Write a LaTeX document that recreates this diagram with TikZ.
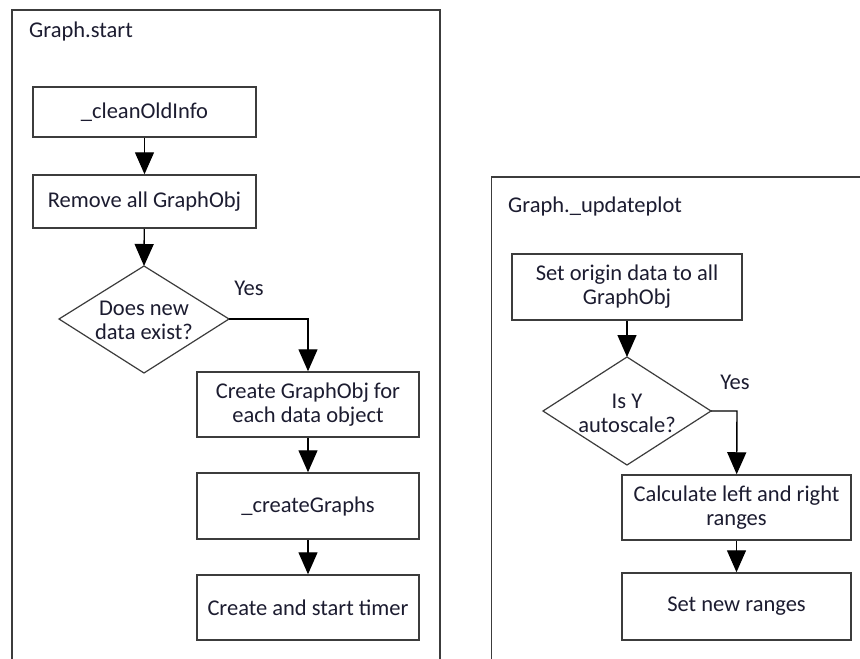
\documentclass[tikz,border=0pt]{standalone}
\usepackage{fontspec}
\setmainfont{Carlito}
\usetikzlibrary{arrows.meta}
\definecolor{edge}{HTML}{3C3C3C}
\definecolor{ink}{HTML}{1C1C30}
\begin{document}
\begin{tikzpicture}[x=1pt,y=-1pt,
  frame/.style={draw=edge,line width=1.8pt},
  txt/.style={text=ink,font=\fontsize{22.5}{24}\selectfont},
  stepbox/.style={txt,draw=edge,line width=1.5pt,rectangle,minimum width=#1,inner sep=0pt,align=center},
  decision/.style={draw=edge,line width=1.2pt},
  lbl/.style={txt,inner sep=0pt},
  flow/.style={draw=black,line width=1.4pt,-{Triangle[length=22pt,width=19pt]}}]
\useasboundingbox (0,0) rectangle (860,659);
\fill[white] (0,0) rectangle (860,659);

% left panel: Graph.start
\draw[frame] (12,659) -- (12,10) -- (440,10) -- (440,659);
\node[lbl,anchor=west] (t1) at (29,31) {Graph.start};
\node[stepbox=223pt,minimum height=50pt] (clean) at (144.5,112) {\_cleanOldInfo};
\node[stepbox=223pt,minimum height=53pt] (remove) at (144.5,201.5) {Remove all GraphObj};
\path[decision] (144,266) coordinate (dtop) -- (229,319) coordinate (dright) -- (144,373) coordinate (dbot) -- (59,319) coordinate (dleft) -- cycle;
\node[lbl,align=center] (q1) at (144,320) {Does new\\data exist?};
\node[lbl] (yes1) at (249,288) {Yes};
\node[stepbox=222pt,minimum height=65pt] (mkobj) at (308,404.5) {Create GraphObj for\\each data object};
\node[stepbox=222pt,minimum height=66pt] (mkgraph) at (308,506) {\_createGraphs};
\node[stepbox=222pt,minimum height=65pt] (timer) at (308,607.5) {Create and start timer};
\coordinate (corner1) at (308,319);
\draw[flow] (clean) -- (remove);
\draw[flow] (remove) -- (dtop);
\draw[flow] (dright) -- (corner1) -- (mkobj);
\draw[flow] (mkobj) -- (mkgraph);
\draw[flow] (mkgraph) -- (timer);

% right panel: Graph._updateplot
\draw[frame] (491.5,659) -- (491.5,177) -- (860,177);
\node[lbl,anchor=west] (t2) at (508,206) {Graph.\_updateplot};
\node[stepbox=230pt,minimum height=66pt] (origin) at (627,287) {Set origin data to all\\GraphObj};
\path[decision] (627,357) coordinate (etop) -- (711,411) coordinate (eright) -- (627,465) coordinate (ebot) -- (543,411) coordinate (eleft) -- cycle;
\node[lbl,align=center] (q2) at (627,413) {Is Y\\autoscale?};
\node[lbl] (yes2) at (735,382) {Yes};
\node[stepbox=229pt,minimum height=65pt] (calc) at (736.5,507.5) {Calculate left and right\\ranges};
\node[stepbox=229pt,minimum height=67pt] (setr) at (736.5,606.5) {Set new ranges};
\coordinate (corner2) at (737,411);
\draw[flow] (origin) -- (etop);
\draw[flow] (eright) -- (corner2) -- (calc);
\draw[flow] (calc) -- (setr);
\end{tikzpicture}
\end{document}
